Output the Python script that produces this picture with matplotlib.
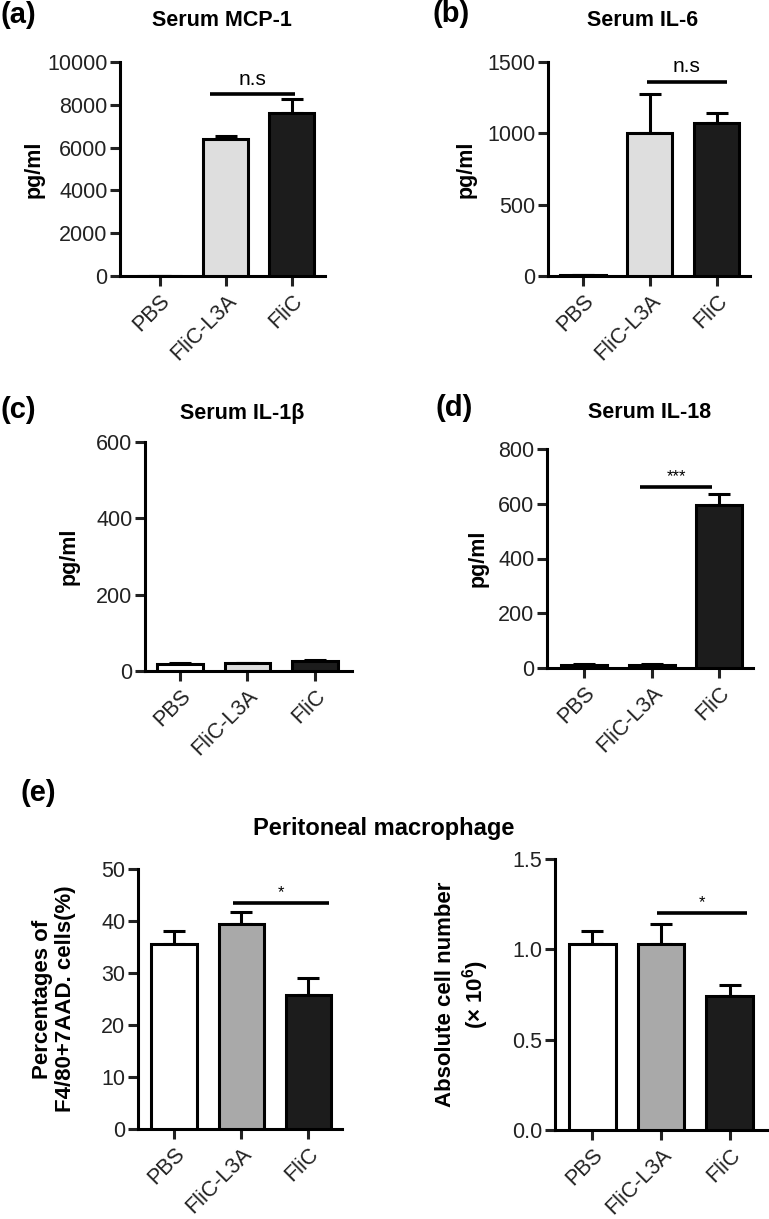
import matplotlib
matplotlib.use('Agg')
import matplotlib.pyplot as plt
import numpy as np

plt.rcParams['font.family'] = ['Liberation Sans', 'DejaVu Sans']
plt.rcParams['mathtext.fontset'] = 'custom'
plt.rcParams['mathtext.rm'] = 'Liberation Sans'
plt.rcParams['mathtext.bf'] = 'Liberation Sans:bold'

groups = ['PBS', 'FliC-L3A', 'FliC']

mcp1 = [20, 6400, 7600]
mcp1_err = [0, 150, 650]
il6 = [10, 1000, 1070]
il6_err = [0, 275, 70]
il1b = [18, 20, 25]
il1b_err = [2, 2, 3]
il18 = [10, 10, 595]
il18_err = [3, 3, 40]
pct = [35.5, 39.5, 25.8]
pct_err = [2.5, 2.3, 3.2]
absn = [1.03, 1.03, 0.74]
absn_err = [0.07, 0.11, 0.06]

W, H = 769, 1219
fig = plt.figure(figsize=(W / 100, H / 100), dpi=100)


def rect(l, r, t, b):
    return [l / W, 1 - b / H, (r - l) / W, (b - t) / H]


def panel(box, vals, errs, colors, ymax, yticks, ylabel, labx, xlim, sig=None, ticklabels=None, labsize=15.5):
    ax = fig.add_axes(box)
    x = np.arange(len(groups))
    ax.bar(x, vals, width=0.68, color=colors, edgecolor='black', linewidth=2.2, zorder=3)
    ax.errorbar(x, vals, yerr=[np.zeros(len(vals)), errs], fmt='none', ecolor='black',
                elinewidth=2.2, capsize=8, capthick=2.2, zorder=2)
    ax.set_ylim(0, ymax)
    ax.set_xlim(*xlim)
    ax.set_yticks(yticks)
    if ticklabels is not None:
        ax.set_yticklabels(ticklabels)
    ax.set_xticks(x)
    ax.set_xticklabels(groups, rotation=45, ha='right', rotation_mode='anchor')
    for s in ['top', 'right']:
        ax.spines[s].set_visible(False)
    for s in ['left', 'bottom']:
        ax.spines[s].set_linewidth(2.2)
    ax.tick_params(axis='both', width=2.2, length=7, labelsize=15.5, color='#222222', labelcolor='#222222')
    ax.tick_params(axis='y', pad=2)
    ax.set_ylabel(ylabel, fontsize=labsize, fontweight='bold', linespacing=1.15, va='center')
    ax.yaxis.set_label_coords(labx, 0.5)
    if sig is not None:
        x0, x1, y, txt, dy = sig
        ax.plot([x0, x1], [y, y], color='black', lw=2.6, solid_capstyle='butt', zorder=4)
        ax.text((x0 + x1) / 2, y + dy, txt, ha='center', va='bottom', fontsize=15 if txt == 'n.s' else 12)
    return ax


light = ['white', '#dedede', '#1c1c1c']
mid = ['white', '#a9a9a9', '#1c1c1c']

panel(rect(120, 325, 62, 276), mcp1, mcp1_err, light, 10000, [0, 2000, 4000, 6000, 8000, 10000],
      'pg/ml', (34 - 120) / 205, (-0.6, 2.5), sig=(0.76, 2.05, 8500, 'n.s', 250))
panel(rect(548, 750, 62, 276), il6, il6_err, light, 1500, [0, 500, 1000, 1500],
      'pg/ml', (466 - 548) / 202, (-0.52, 2.5), sig=(0.96, 2.15, 1360, 'n.s', 40))
panel(rect(145, 352, 442, 671), il1b, il1b_err, light, 600, [0, 200, 400, 600],
      'pg/ml', (69 - 145) / 207, (-0.52, 2.55))
panel(rect(547, 753, 449, 668), il18, il18_err, light, 800, [0, 200, 400, 600, 800],
      'pg/ml', (478 - 547) / 206, (-0.55, 2.5), sig=(0.82, 1.9, 660, '***', 10))
panel(rect(138, 342, 869, 1129), pct, pct_err, mid, 50, [0, 10, 20, 30, 40, 50],
      'Percentages of\nF4/80+7AAD. cells(%)', (54 - 138) / 204, (-0.54, 2.5),
      sig=(0.88, 2.3, 43.5, '*', 0.5), labsize=16)
panel(rect(555, 767, 859, 1130), absn, absn_err, mid, 1.5, [0, 0.5, 1.0, 1.5],
      'Absolute cell number\n(× 10$^{\\mathbf{6}}$)', (463 - 555) / 212, (-0.54, 2.54),
      sig=(0.94, 2.25, 1.2, '*', 0.015), ticklabels=['0.0', '0.5', '1.0', '1.5'], labsize=16)

# panel letters and titles
for lab, px, py in [('(a)', 0, 15), ('(b)', 433, 14), ('(c)', 0, 410), ('(d)', 435, 408), ('(e)', 20, 793)]:
    fig.text(px / W, 1 - py / H, lab, fontsize=21, fontweight='bold', ha='left', va='center')
for t, px, py in [('Serum MCP-1', 222, 20), ('Serum IL-6', 643, 20), ('Serum IL-1β', 242, 413),
                  ('Serum IL-18', 650, 413)]:
    fig.text(px / W, 1 - py / H, t, fontsize=15.5, fontweight='bold', ha='center', va='center')
fig.text(384 / W, 1 - 828 / H, 'Peritoneal macrophage', fontsize=17, fontweight='bold',
         ha='center', va='center')

fig.savefig('out.png', dpi=100)
